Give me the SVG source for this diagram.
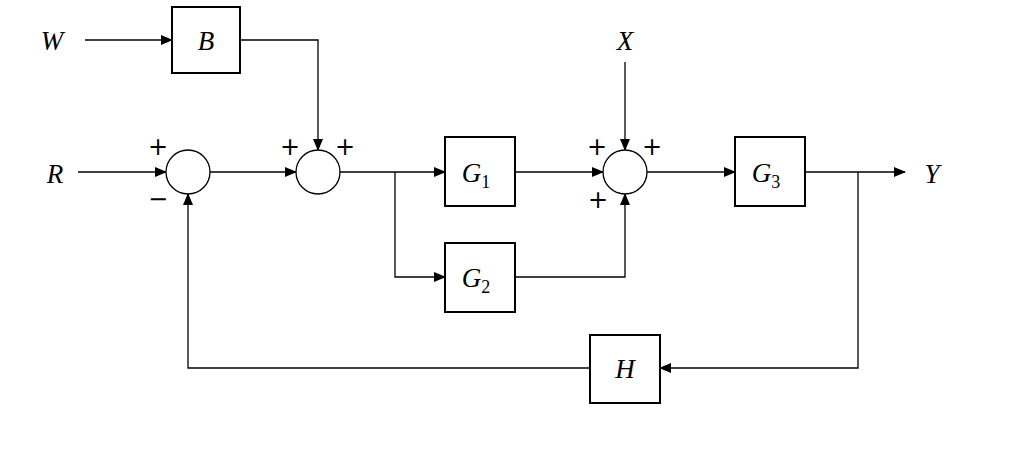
<svg xmlns="http://www.w3.org/2000/svg" width="1024" height="467" viewBox="0 0 1024 467">
<style>
.b{fill:#fff;stroke:#000;stroke-width:2}
.c{fill:#fff;stroke:#000;stroke-width:1.3}
.l{fill:none;stroke:#000;stroke-width:1.3}
.t{font-family:"Liberation Serif",serif;font-style:italic;font-size:27px;text-anchor:middle}
.s{font-family:"Liberation Serif",serif;font-size:18px}
.p{font-family:"DejaVu Sans",sans-serif;font-size:24px;text-anchor:middle}
</style>
<defs><marker id="a" markerWidth="12" markerHeight="10" refX="11" refY="5" orient="auto" markerUnits="userSpaceOnUse"><path d="M0,0 L12,5 L0,10 Z"/></marker></defs>
<rect width="1024" height="467" fill="#fff"/>
<g id="connectors">
<path class="l" d="M85,40 H172" marker-end="url(#a)"/>
<path class="l" d="M240,40 H318 V150" marker-end="url(#a)"/>
<path class="l" d="M78,172 H166" marker-end="url(#a)"/>
<path class="l" d="M210,172 H296" marker-end="url(#a)"/>
<path class="l" d="M340,172 H445" marker-end="url(#a)"/>
<path class="l" d="M395,172 V277 H445" marker-end="url(#a)"/>
<path class="l" d="M515,172 H603" marker-end="url(#a)"/>
<path class="l" d="M625,62 V150" marker-end="url(#a)"/>
<path class="l" d="M515,277 H625 V194" marker-end="url(#a)"/>
<path class="l" d="M647,172 H735" marker-end="url(#a)"/>
<path class="l" d="M805,172 H905" marker-end="url(#a)"/>
<path class="l" d="M858,172 V368 H660" marker-end="url(#a)"/>
<path class="l" d="M590,368 H188 V194" marker-end="url(#a)"/>
</g>
<g id="W"><text class="t" x="52" y="50">W</text></g>
<g id="R"><text class="t" x="55" y="183">R</text></g>
<g id="X"><text class="t" x="625" y="50">X</text></g>
<g id="Y"><text class="t" x="932" y="183">Y</text></g>
<g id="B"><rect class="b" x="172" y="7" width="68" height="66"/><text class="t" x="206" y="50">B</text></g>
<g id="G1"><rect class="b" x="445" y="137" width="70" height="69"/><text class="t" x="476" y="182">G<tspan class="s" font-style="normal" dy="6">1</tspan></text></g>
<g id="G2"><rect class="b" x="445" y="243" width="70" height="69"/><text class="t" x="476" y="287">G<tspan class="s" font-style="normal" dy="6">2</tspan></text></g>
<g id="G3"><rect class="b" x="735" y="137" width="70" height="69"/><text class="t" x="766" y="182">G<tspan class="s" font-style="normal" dy="6">3</tspan></text></g>
<g id="H"><rect class="b" x="590" y="335" width="70" height="68"/><text class="t" x="625" y="378">H</text></g>
<g id="S1"><circle class="c" cx="188" cy="172" r="22"/><text class="p" x="158" y="155">+</text><text class="p" x="158" y="207">−</text></g>
<g id="S2"><circle class="c" cx="318" cy="172" r="22"/><text class="p" x="290" y="155">+</text><text class="p" x="345" y="155">+</text></g>
<g id="S3"><circle class="c" cx="625" cy="172" r="22"/><text class="p" x="597" y="155">+</text><text class="p" x="652" y="155">+</text><text class="p" x="598" y="208">+</text></g>
</svg>
